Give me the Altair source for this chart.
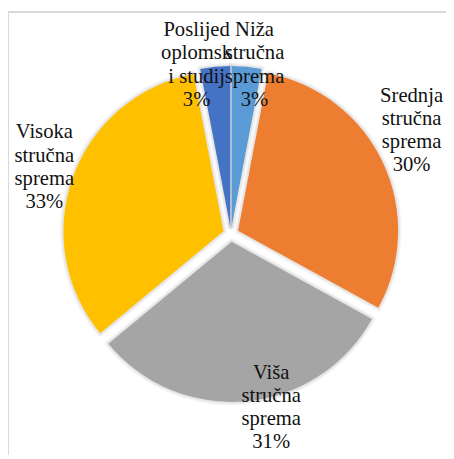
import altair as alt
import pandas as pd

# ---- data (clockwise from 12 o'clock) ----
categories = ["Niža stručna sprema", "Srednja stručna sprema", "Viša stručna sprema",
              "Visoka stručna sprema", "Poslijediplomski studij"]
label_lines = ["Niža\nstručna\nsprema", "Srednja\nstručna\nsprema", "Viša\nstručna\nsprema",
               "Visoka\nstručna\nsprema", "Poslijed\noplomsk\ni studij"]
percent = [3, 30, 31, 33, 3]
colors = ["#5B9BD5", "#ED7D31", "#A5A5A5", "#FFC000", "#4472C4"]

# ---- layout settings ----
W, H = 446, 451
CX, CY = 227, 226        # pie centre (chart coordinates)
R = 163                  # pie radius
EXPLODE = 8              # slice explosion distance
LH = 23.5                # label line height
label_dist = [173.3, 212.7, 181.9, 200.7, 174.8]
label_nudge = [2.9, -4.4, -7.95, -0.15, -5.8]   # degrees

df = pd.DataFrame({
    "cat": categories,
    "text": [f"{l}\n{p}%" for l, p in zip(label_lines, percent)],
    "value": percent,
    "order": list(range(len(categories))),
    "ldist": label_dist,
    "lnudge": label_nudge,
})

base = (
    alt.Chart(df)
    .transform_window(cum="sum(value)", sort=[alt.SortField("order")], frame=[None, 0])
    .transform_joinaggregate(total="sum(value)")
    .transform_calculate(
        t0="2*PI*(datum.cum - datum.value)/datum.total",
        t1="2*PI*datum.cum/datum.total",
    )
    .transform_calculate(mid="(datum.t0 + datum.t1)/2")
    .transform_calculate(
        px=f"{CX} + {EXPLODE}*sin(datum.mid)",
        py=f"{CY} - {EXPLODE}*cos(datum.mid)",
        la="datum.mid + datum.lnudge*PI/180",
    )
    .transform_calculate(
        lx=f"{CX - 1} + datum.ldist*sin(datum.la)",
        ly=f"{CY - 0.5} - datum.ldist*cos(datum.la) - 1.5*{LH}",
    )
)

pos = dict(
    x=alt.X("px:Q", scale=None, axis=None),
    y=alt.Y("py:Q", scale=None, axis=None),
    theta=alt.Theta("t0:Q", scale=None),
    theta2=alt.Theta2("t1:Q"),
)

shadow1 = base.mark_arc(outerRadius=R, fillOpacity=0, stroke="#000000",
                        strokeWidth=7, strokeOpacity=0.04, strokeJoin="round").encode(**pos)
shadow2 = base.mark_arc(outerRadius=R, fillOpacity=0, stroke="#000000",
                        strokeWidth=4, strokeOpacity=0.06, strokeJoin="round").encode(**pos)

arcs = base.mark_arc(outerRadius=R).encode(
    **pos,
    color=alt.Color("cat:N", scale=alt.Scale(domain=categories, range=colors), legend=None),
)

labels = base.mark_text(
    font="Liberation Serif", fontSize=21, lineHeight=LH, lineBreak="\n",
    align="center", baseline="middle", color="#111111",
).encode(
    x=alt.X("lx:Q", scale=None, axis=None),
    y=alt.Y("ly:Q", scale=None, axis=None),
    text="text:N",
)

frame_df = pd.DataFrame({"a": [0]})
left_rule = alt.Chart(frame_df).mark_rule(color="#d9d9d9", strokeWidth=2).encode(
    x=alt.value(0), y=alt.value(0), y2=alt.value(H))
top_rule = alt.Chart(frame_df).mark_rule(color="#d9d9d9", strokeWidth=2).encode(
    x=alt.value(0), x2=alt.value(W), y=alt.value(0))

chart = alt.layer(left_rule, top_rule, shadow1, shadow2, arcs, labels).properties(
    width=W, height=H, padding=0,
    autosize=alt.AutoSizeParams(type="none"),
).configure_view(stroke=None)

chart.save("out.html", embed_options={"renderer": "svg", "actions": False})
